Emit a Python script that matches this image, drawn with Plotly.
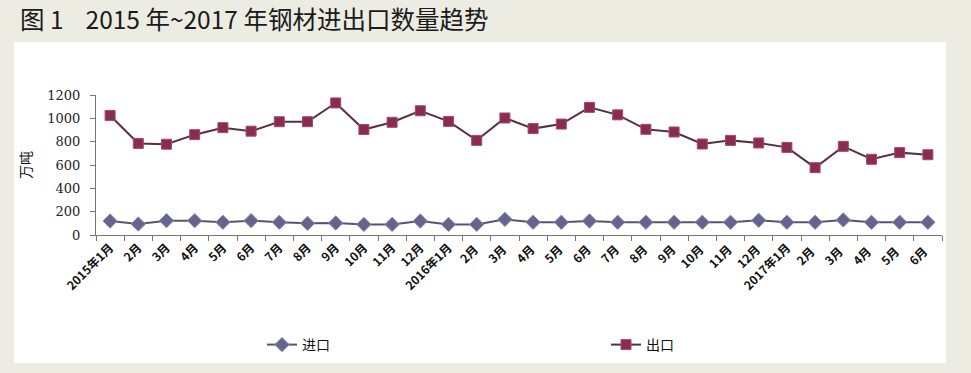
import plotly.graph_objects as go

categories = ["2015年1月", "2月", "3月", "4月", "5月", "6月", "7月", "8月", "9月", "10月", "11月", "12月",
              "2016年1月", "2月 ", "3月 ", "4月 ", "5月 ", "6月 ", "7月 ", "8月 ", "9月 ", "10月 ", "11月 ", "12月 ",
              "2017年1月", "2月  ", "3月  ", "4月  ", "5月  ", "6月  "]

imports = [120, 94, 123, 123, 109, 123, 109, 100, 103, 91, 91, 120,
           91, 91, 134, 109, 109, 120, 109, 109, 109, 109, 109, 126,
           109, 109, 129, 109, 109, 109]

exports = [1025, 785, 778, 860, 920, 890, 971, 971, 1132, 904, 966, 1065,
           974, 811, 1003, 912, 951, 1094, 1030, 906, 883, 780, 811, 789,
           751, 577, 760, 649, 706, 688]

y_ticks = [0, 200, 400, 600, 800, 1000, 1200]

title_text = "图 1\u00a0\u00a0\u00a0\u00a02015 年~2017 年钢材进出口数量趋势"

FONT = "Noto Sans CJK SC"

fig = go.Figure()
fig.add_trace(go.Scatter(
    x=categories, y=imports, name="进口", mode="lines+markers",
    line=dict(color="#56566a", width=2),
    marker=dict(symbol="diamond", size=11, color="#64648f", line=dict(color="#8a8ab0", width=1)),
    legend="legend",
))
fig.add_trace(go.Scatter(
    x=categories, y=exports, name="出口", mode="lines+markers",
    line=dict(color="#573042", width=2),
    marker=dict(symbol="square", size=10, color="#8a2c52", line=dict(color="#a04a6c", width=1)),
    legend="legend2",
))

L, R, T, B = 96, 29, 95, 138
W, H = 971, 373
pw = W - L - R
ph = H - T - B

def px_x(px):
    return (px - L) / pw

def px_y(py):
    return (H - B - py) / ph

fig.update_layout(
    width=W, height=H,
    margin=dict(l=L, r=R, t=T, b=B, autoexpand=False),
    paper_bgcolor="#ecece3",
    plot_bgcolor="white",
    font=dict(family=FONT, color="#222222"),
    showlegend=True,
    legend=dict(x=px_x(262), y=px_y(345), xanchor="left", yanchor="middle",
                bgcolor="rgba(0,0,0,0)", font=dict(size=14, family=FONT, color="#111")),
    legend2=dict(x=px_x(606), y=px_y(345), xanchor="left", yanchor="middle",
                 bgcolor="rgba(0,0,0,0)", font=dict(size=14, family=FONT, color="#111")),
    shapes=[dict(type="rect", xref="paper", yref="paper", layer="below",
                 x0=px_x(14), x1=px_x(946), y0=px_y(363), y1=px_y(42),
                 fillcolor="white", line=dict(width=0))],
    annotations=[dict(text=title_text, xref="paper", yref="paper",
                      x=px_x(18), y=px_y(19), xanchor="left", yanchor="middle", showarrow=False,
                      font=dict(size=24.5, family=FONT, color="#1a1a1a"))],
)

fig.update_xaxes(
    type="category", range=[-0.5, len(categories) - 0.5],
    showline=True, linecolor="#777777", linewidth=1,
    ticks="outside", tickson="boundaries", ticklen=5, tickcolor="#777777",
    tickangle=-45, tickfont=dict(size=12, family=FONT, color="#111", weight="bold"),
    showgrid=False, zeroline=False, automargin=False,
)
fig.update_yaxes(
    range=[0, 1200], tickvals=y_ticks, ticktext=[str(v) for v in y_ticks],
    showline=True, linecolor="#777777", linewidth=1,
    ticks="outside", ticklen=5, tickcolor="#777777", ticklabelstandoff=7,
    tickfont=dict(size=13, family="DejaVu Serif", color="#222"),
    showgrid=False, zeroline=False, automargin=False,
    title=dict(text="万吨", font=dict(size=14, family=FONT, color="#111"), standoff=12),
)

fig.write_html("out.html", config={"displayModeBar": False},
               post_script="document.body.style.margin='0px';")
